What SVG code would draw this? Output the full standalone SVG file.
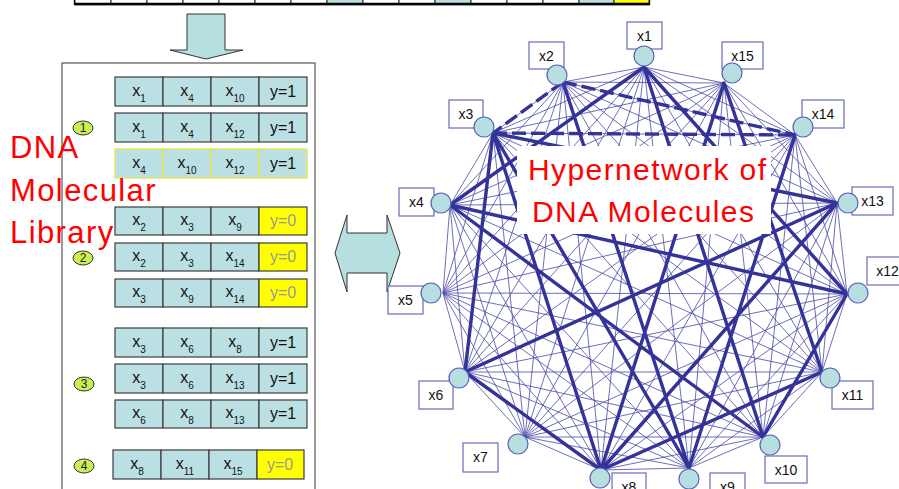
<svg xmlns="http://www.w3.org/2000/svg" width="899" height="489" viewBox="0 0 899 489">
  <style>
    .cell { fill: #bbe0e3; stroke: #3c3c3c; stroke-width: 1.2; }
    .ycell { fill: #ffff00; stroke: #3c3c3c; stroke-width: 1.2; }
    .hl { fill: #bbe0e3; stroke: #e6e650; stroke-width: 1.4; }
    .ct { font-family: "Liberation Sans", Arial, sans-serif; font-size: 16px; fill: #111; text-anchor: middle; }
    .cy { font-family: "Liberation Sans", Arial, sans-serif; font-size: 16px; fill: #999; text-anchor: middle; }
    .sub { font-size: 10px; }
    .big { font-family: "Liberation Sans", Arial, sans-serif; font-size: 31px; fill: #ff0000; letter-spacing: 1.4px; }
    .num { fill: #ccee55; stroke: #333; stroke-width: 1; }
    .numt { font-family: "Liberation Sans", Arial, sans-serif; font-size: 12px; fill: #222; text-anchor: middle; }
    .bar { fill: #fff; stroke: #222; stroke-width: 1; }
    .thin { fill: none; stroke: #4b4ba8; stroke-width: 0.9; stroke-opacity: 0.9; }
    .thick { fill: none; stroke: #333399; stroke-width: 3.4; stroke-linecap: round; }
    .dash { fill: none; stroke: #333399; stroke-width: 3.4; stroke-dasharray: 14 5; }
    .node { fill: #b8dfe0; stroke: #5a62b8; stroke-width: 1.2; }
    .lbl { fill: #fff; stroke: #6a6ab8; stroke-width: 1.2; }
    .lt { font-family: "Liberation Sans", Arial, sans-serif; font-size: 14px; fill: #111; text-anchor: middle; }
    .arrow { fill: #b8dfe0; stroke: #333; stroke-width: 1; }
  </style>

  <!-- data string along the top edge -->
  <g id="data-bar">
    <rect x="75" y="-10" width="574" height="14" fill="#fff" stroke="#000" stroke-width="2.4"/>
    <rect class="bar" x="75" y="-10" width="36" height="14"/>
    <rect class="bar" x="111" y="-10" width="36" height="14"/>
    <rect class="bar" x="147" y="-10" width="36" height="14"/>
    <rect class="bar" x="183" y="-10" width="36" height="14"/>
    <rect class="bar" x="219" y="-10" width="36" height="14"/>
    <rect class="bar" x="255" y="-10" width="36" height="14"/>
    <rect class="bar" x="291" y="-10" width="36" height="14"/>
    <rect class="bar" x="327" y="-10" width="36" height="14" style="fill:#bbe0e3"/>
    <rect class="bar" x="363" y="-10" width="36" height="14"/>
    <rect class="bar" x="399" y="-10" width="36" height="14"/>
    <rect class="bar" x="435" y="-10" width="36" height="14" style="fill:#bbe0e3"/>
    <rect class="bar" x="471" y="-10" width="36" height="14"/>
    <rect class="bar" x="507" y="-10" width="36" height="14"/>
    <rect class="bar" x="543" y="-10" width="36" height="14"/>
    <rect class="bar" x="579" y="-10" width="35" height="14" style="fill:#bbe0e3"/>
    <rect class="bar" x="614" y="-10" width="35" height="14" style="fill:#ffff00"/>
    <line x1="75" y1="4" x2="649" y2="4" stroke="#000" stroke-width="2.4"/>
  </g>

  <!-- arrows -->
  <g id="arrow-down">
    <polygon class="arrow" points="187,14 225,14 225,50 243,50 206,59 170,50 187,50"/>
  </g>
  <g id="arrow-both">
    <polygon class="arrow" points="335,253 347,215 347,233 387,233 387,215 400,253 387,292 387,273 347,273 347,292"/>
  </g>

  <!-- molecular library panel -->
  <g id="library">
    <rect x="62" y="63" width="253" height="440" fill="#fff" stroke="#555" stroke-width="1.2"/>

    <g id="row1">
      <rect class="cell" x="115" y="77" width="48" height="29"/><rect class="cell" x="163" y="77" width="48" height="29"/><rect class="cell" x="211" y="77" width="48" height="29"/><rect class="cell" x="259" y="77" width="48" height="29"/>
      <text class="ct" x="139" y="96">x<tspan class="sub" dy="6">1</tspan></text>
      <text class="ct" x="187" y="96">x<tspan class="sub" dy="6">4</tspan></text>
      <text class="ct" x="235" y="96">x<tspan class="sub" dy="6">10</tspan></text>
      <text class="ct" x="283" y="97">y=1</text>
    </g>
    <g id="row2">
      <rect class="cell" x="115" y="113" width="48" height="29"/><rect class="cell" x="163" y="113" width="48" height="29"/><rect class="cell" x="211" y="113" width="48" height="29"/><rect class="cell" x="259" y="113" width="48" height="29"/>
      <text class="ct" x="139" y="132">x<tspan class="sub" dy="6">1</tspan></text>
      <text class="ct" x="187" y="132">x<tspan class="sub" dy="6">4</tspan></text>
      <text class="ct" x="235" y="132">x<tspan class="sub" dy="6">12</tspan></text>
      <text class="ct" x="283" y="133">y=1</text>
    </g>
    <g id="row3">
      <rect class="hl" x="115" y="149" width="48" height="29"/><rect class="hl" x="163" y="149" width="48" height="29"/><rect class="hl" x="211" y="149" width="48" height="29"/><rect class="hl" x="259" y="149" width="48" height="29"/>
      <text class="ct" x="139" y="168">x<tspan class="sub" dy="6">4</tspan></text>
      <text class="ct" x="187" y="168">x<tspan class="sub" dy="6">10</tspan></text>
      <text class="ct" x="235" y="168">x<tspan class="sub" dy="6">12</tspan></text>
      <text class="ct" x="283" y="169">y=1</text>
    </g>
    <g id="row4">
      <rect class="cell" x="115" y="207" width="48" height="28"/><rect class="cell" x="163" y="207" width="48" height="28"/><rect class="cell" x="211" y="207" width="48" height="28"/><rect class="ycell" x="259" y="207" width="48" height="28"/>
      <text class="ct" x="139" y="225">x<tspan class="sub" dy="6">2</tspan></text>
      <text class="ct" x="187" y="225">x<tspan class="sub" dy="6">3</tspan></text>
      <text class="ct" x="235" y="225">x<tspan class="sub" dy="6">9</tspan></text>
      <text class="cy" x="283" y="226">y=0</text>
    </g>
    <g id="row5">
      <rect class="cell" x="115" y="243" width="48" height="28"/><rect class="cell" x="163" y="243" width="48" height="28"/><rect class="cell" x="211" y="243" width="48" height="28"/><rect class="ycell" x="259" y="243" width="48" height="28"/>
      <text class="ct" x="139" y="261">x<tspan class="sub" dy="6">2</tspan></text>
      <text class="ct" x="187" y="261">x<tspan class="sub" dy="6">3</tspan></text>
      <text class="ct" x="235" y="261">x<tspan class="sub" dy="6">14</tspan></text>
      <text class="cy" x="283" y="262">y=0</text>
    </g>
    <g id="row6">
      <rect class="cell" x="115" y="279" width="48" height="28"/><rect class="cell" x="163" y="279" width="48" height="28"/><rect class="cell" x="211" y="279" width="48" height="28"/><rect class="ycell" x="259" y="279" width="48" height="28"/>
      <text class="ct" x="139" y="297">x<tspan class="sub" dy="6">3</tspan></text>
      <text class="ct" x="187" y="297">x<tspan class="sub" dy="6">9</tspan></text>
      <text class="ct" x="235" y="297">x<tspan class="sub" dy="6">14</tspan></text>
      <text class="cy" x="283" y="298">y=0</text>
    </g>
    <g id="row7">
      <rect class="cell" x="115" y="328" width="48" height="29"/><rect class="cell" x="163" y="328" width="48" height="29"/><rect class="cell" x="211" y="328" width="48" height="29"/><rect class="cell" x="259" y="328" width="48" height="29"/>
      <text class="ct" x="139" y="347">x<tspan class="sub" dy="6">3</tspan></text>
      <text class="ct" x="187" y="347">x<tspan class="sub" dy="6">6</tspan></text>
      <text class="ct" x="235" y="347">x<tspan class="sub" dy="6">8</tspan></text>
      <text class="ct" x="283" y="348">y=1</text>
    </g>
    <g id="row8">
      <rect class="cell" x="115" y="364" width="48" height="29"/><rect class="cell" x="163" y="364" width="48" height="29"/><rect class="cell" x="211" y="364" width="48" height="29"/><rect class="cell" x="259" y="364" width="48" height="29"/>
      <text class="ct" x="139" y="383">x<tspan class="sub" dy="6">3</tspan></text>
      <text class="ct" x="187" y="383">x<tspan class="sub" dy="6">6</tspan></text>
      <text class="ct" x="235" y="383">x<tspan class="sub" dy="6">13</tspan></text>
      <text class="ct" x="283" y="384">y=1</text>
    </g>
    <g id="row9">
      <rect class="cell" x="115" y="400" width="48" height="28"/><rect class="cell" x="163" y="400" width="48" height="28"/><rect class="cell" x="211" y="400" width="48" height="28"/><rect class="cell" x="259" y="400" width="48" height="28"/>
      <text class="ct" x="139" y="418">x<tspan class="sub" dy="6">6</tspan></text>
      <text class="ct" x="187" y="418">x<tspan class="sub" dy="6">8</tspan></text>
      <text class="ct" x="235" y="418">x<tspan class="sub" dy="6">13</tspan></text>
      <text class="ct" x="283" y="419">y=1</text>
    </g>
    <g id="row10">
      <rect class="cell" x="113" y="450" width="48" height="29"/><rect class="cell" x="161" y="450" width="48" height="29"/><rect class="cell" x="209" y="450" width="48" height="29"/><rect class="ycell" x="257" y="450" width="47" height="29"/>
      <text class="ct" x="137" y="469">x<tspan class="sub" dy="6">8</tspan></text>
      <text class="ct" x="185" y="469">x<tspan class="sub" dy="6">11</tspan></text>
      <text class="ct" x="233" y="469">x<tspan class="sub" dy="6">15</tspan></text>
      <text class="cy" x="280" y="470">y=0</text>
    </g>

    <g id="group-marks">
      <ellipse class="num" cx="83" cy="128" rx="10" ry="7"/><text class="numt" x="83" y="132">1</text>
      <ellipse class="num" cx="83" cy="258" rx="10" ry="7"/><text class="numt" x="83" y="262">2</text>
      <ellipse class="num" cx="84" cy="384" rx="10" ry="7"/><text class="numt" x="84" y="388">3</text>
      <ellipse class="num" cx="84" cy="466" rx="10" ry="7"/><text class="numt" x="84" y="470">4</text>
    </g>
  </g>

  <g id="library-title">
    <text class="big" x="10" y="158">DNA</text>
    <text class="big" x="10" y="201">Molecular</text>
    <text class="big" x="10" y="243">Library</text>
  </g>

  <!-- hypernetwork: every pair of variables joined, hyperedges in bold -->
  <g id="connectors">
    <path class="thin" d="M644 67L563 82M644 67L493 133M644 67L450 205M644 67L443 293M644 67L465 372M644 67L525 437M644 67L601 470M644 67L689 468M644 67L763 437M644 67L822 372M644 67L847 294M644 67L837 203M644 67L795 135M644 67L724 83
M563 82L493 133M563 82L450 205M563 82L443 293M563 82L465 372M563 82L525 437M563 82L601 470M563 82L689 468M563 82L763 437M563 82L822 372M563 82L847 294M563 82L837 203M563 82L795 135M563 82L724 83
M493 133L450 205M493 133L443 293M493 133L465 372M493 133L525 437M493 133L601 470M493 133L689 468M493 133L763 437M493 133L822 372M493 133L847 294M493 133L837 203M493 133L795 135M493 133L724 83
M450 205L443 293M450 205L465 372M450 205L525 437M450 205L601 470M450 205L689 468M450 205L763 437M450 205L822 372M450 205L847 294M450 205L837 203M450 205L795 135M450 205L724 83
M443 293L465 372M443 293L525 437M443 293L601 470M443 293L689 468M443 293L763 437M443 293L822 372M443 293L847 294M443 293L837 203M443 293L795 135M443 293L724 83
M465 372L525 437M465 372L601 470M465 372L689 468M465 372L763 437M465 372L822 372M465 372L847 294M465 372L837 203M465 372L795 135M465 372L724 83
M525 437L601 470M525 437L689 468M525 437L763 437M525 437L822 372M525 437L847 294M525 437L837 203M525 437L795 135M525 437L724 83
M601 470L689 468M601 470L763 437M601 470L822 372M601 470L847 294M601 470L837 203M601 470L795 135M601 470L724 83
M689 468L763 437M689 468L822 372M689 468L847 294M689 468L837 203M689 468L795 135M689 468L724 83
M763 437L822 372M763 437L847 294M763 437L837 203M763 437L795 135M763 437L724 83
M822 372L847 294M822 372L837 203M822 372L795 135M822 372L724 83
M847 294L837 203M847 294L795 135M847 294L724 83
M837 203L795 135M837 203L724 83
M795 135L724 83"/>
    <path class="thick" d="M644 67L450 205M644 67L763 437M450 205L763 437
M644 67L847 294M450 205L847 294M763 437L847 294
M563 82L689 468M493 133L689 468M689 468L795 135
M493 133L465 372M493 133L601 470M465 372L601 470
M465 372L837 203M493 133L837 203M601 470L837 203
M601 470L822 372M601 470L724 83M822 372L724 83"/>
    <path class="dash" d="M563 82L493 133M563 82L795 135M493 133L795 135"/>
  </g>

  <g id="network-title">
    <rect x="517" y="146" width="254" height="88" fill="#fff"/>
    <text class="big" x="528" y="180" style="font-size:30px">Hypernetwork of</text>
    <text class="big" x="532" y="222" style="font-size:30px">DNA Molecules</text>
  </g>

  <g id="node-x1"><rect class="lbl" x="627" y="22" width="35" height="27"/><text class="lt" x="644.5" y="41">x1</text><circle class="node" cx="644" cy="56" r="10"/></g>
  <g id="node-x2"><rect class="lbl" x="529" y="42" width="35" height="27"/><text class="lt" x="546.5" y="61">x2</text><circle class="node" cx="557" cy="75" r="10"/></g>
  <g id="node-x15"><rect class="lbl" x="722" y="42" width="41" height="27"/><text class="lt" x="742.5" y="61">x15</text><circle class="node" cx="732" cy="73" r="10"/></g>
  <g id="node-x3"><rect class="lbl" x="449" y="100" width="34" height="28"/><text class="lt" x="466" y="119">x3</text><circle class="node" cx="484" cy="127" r="10"/></g>
  <g id="node-x14"><rect class="lbl" x="802" y="100" width="42" height="28"/><text class="lt" x="823" y="119">x14</text><circle class="node" cx="803" cy="127" r="10"/></g>
  <g id="node-x4"><rect class="lbl" x="399" y="188" width="35" height="28"/><text class="lt" x="416.5" y="207">x4</text><circle class="node" cx="441" cy="203" r="10"/></g>
  <g id="node-x13"><rect class="lbl" x="852" y="187" width="41" height="28"/><text class="lt" x="872.5" y="206">x13</text><circle class="node" cx="848" cy="203" r="10"/></g>
  <g id="node-x5"><rect class="lbl" x="388" y="286" width="35" height="28"/><text class="lt" x="405.5" y="305">x5</text><circle class="node" cx="431" cy="293" r="10"/></g>
  <g id="node-x12"><rect class="lbl" x="867" y="257" width="41" height="28"/><text class="lt" x="887.5" y="276">x12</text><circle class="node" cx="858" cy="293" r="10"/></g>
  <g id="node-x6"><rect class="lbl" x="419" y="381" width="34" height="28"/><text class="lt" x="436" y="400">x6</text><circle class="node" cx="459" cy="378" r="10"/></g>
  <g id="node-x11"><rect class="lbl" x="832" y="381" width="41" height="28"/><text class="lt" x="852.5" y="400">x11</text><circle class="node" cx="830" cy="378" r="10"/></g>
  <g id="node-x7"><rect class="lbl" x="463" y="443" width="35" height="29"/><text class="lt" x="480.5" y="462">x7</text><circle class="node" cx="518" cy="444" r="10"/></g>
  <g id="node-x10"><rect class="lbl" x="765" y="456" width="42" height="27"/><text class="lt" x="786" y="475">x10</text><circle class="node" cx="770" cy="445" r="10"/></g>
  <g id="node-x8"><rect class="lbl" x="612" y="473" width="34" height="28"/><text class="lt" x="629" y="492">x8</text><circle class="node" cx="600" cy="478" r="10"/></g>
  <g id="node-x9"><rect class="lbl" x="710" y="473" width="35" height="28"/><text class="lt" x="727.5" y="492">x9</text><circle class="node" cx="689" cy="479" r="10"/></g>
</svg>
